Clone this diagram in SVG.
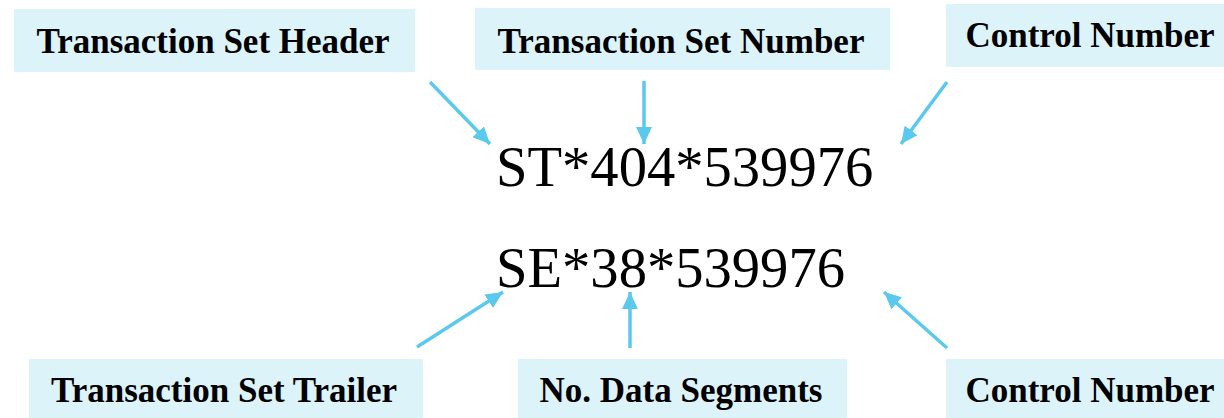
<svg xmlns="http://www.w3.org/2000/svg" width="1224" height="418" viewBox="0 0 1224 418">
<style>
.box{fill:#ddf3fa}
.lbl{font-family:"Liberation Serif","Times New Roman",serif;font-weight:bold;font-size:35px;fill:#000;text-anchor:middle}
.code{font-family:"Liberation Serif","Times New Roman",serif;font-size:56.6px;fill:#000}
.conn{stroke:#5bc8ee;stroke-width:3.5;fill:none;marker-end:url(#ah)}
</style>
<defs>
<marker id="ah" markerUnits="userSpaceOnUse" markerWidth="18" markerHeight="16" refX="17" refY="8" orient="auto">
<path d="M0,0 L17,8 L0,16 Z" fill="#5bc8ee"/>
</marker>
</defs>
<rect width="1224" height="418" fill="#fff"/>
<g id="code-st"><text class="code" x="496" y="186">ST*404*539976</text></g>
<g id="code-se"><text class="code" x="496" y="287">SE*38*539976</text></g>
<g id="n-tsh"><rect class="box" x="14" y="9" width="401" height="63"/><text class="lbl" x="213" y="53">Transaction Set Header</text></g>
<g id="n-tsn"><rect class="box" x="475" y="8" width="415" height="62"/><text class="lbl" x="681" y="53">Transaction Set Number</text></g>
<g id="n-cn1"><rect class="box" x="946" y="4" width="278" height="63"/><text class="lbl" x="1090" y="47">Control Number</text></g>
<g id="n-tst"><rect class="box" x="29" y="359" width="394" height="59"/><text class="lbl" x="224" y="402">Transaction Set Trailer</text></g>
<g id="n-nds"><rect class="box" x="518" y="359" width="329" height="59"/><text class="lbl" x="681" y="402">No. Data Segments</text></g>
<g id="n-cn2"><rect class="box" x="946" y="359" width="278" height="59"/><text class="lbl" x="1090" y="402">Control Number</text></g>
<g id="connectors">
<path class="conn" d="M430,82 L490,144"/>
<path class="conn" d="M644,81 L644,144"/>
<path class="conn" d="M947,82 L901,144"/>
<path class="conn" d="M417,347 L503,292"/>
<path class="conn" d="M630,348 L630,292"/>
<path class="conn" d="M947,348 L884,292"/>
</g>
</svg>
